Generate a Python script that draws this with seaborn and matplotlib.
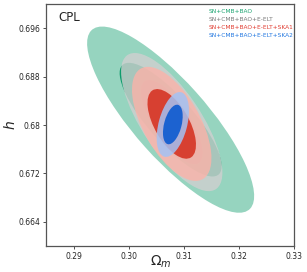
import numpy as np
import matplotlib
matplotlib.use("Agg")
import matplotlib.pyplot as plt
from matplotlib.patches import Ellipse
import seaborn as sns

# ─── DATA ───────────────────────────────────────────────
labels  = ["SN+CMB+BAO", "SN+CMB+BAO+E-ELT",
           "SN+CMB+BAO+E-ELT+SKA1", "SN+CMB+BAO+E-ELT+SKA2"]
om_mean = [0.3076, 0.3078, 0.3078, 0.3080]
h_mean  = [0.6809, 0.6805, 0.6802, 0.6801]
sig_om  = [0.0061, 0.0037, 0.0029, 0.00118]
sig_h   = [0.0062, 0.0046, 0.0038, 0.00216]
rho     = [-0.82, -0.73, -0.60, 0.42]

xticks = [0.29, 0.30, 0.31, 0.32, 0.33]
xtick_labels = ["0.29", "0.30", "0.31", "0.32", "0.33"]
yticks = [0.664, 0.672, 0.680, 0.688, 0.696]
ytick_labels = ["0.664", "0.672", "0.68", "0.688", "0.696"]

# ─── STYLE ──────────────────────────────────────────────
colors_2s = ["#96d4bf", "#d0d0d0", "#fcb3a9", "#a4c2f4"]
colors_1s = ["#0e9c6c", "#b4b4b4", "#d63a2a", "#1c62d0"]
alpha_2s  = [1.0, 0.8, 0.8, 0.85]
alpha_1s  = [1.0, 0.8, 0.95, 1.0]
text_cols = ["#1aa36f", "#7a7a7a", "#e03c31", "#2277e0"]

K1 = np.sqrt(2.30)   # 68% 2D contour
K2 = np.sqrt(6.17)   # 95% 2D contour


def ellipse(ax, mx, my, sx, sy, r, k, **kw):
    cov = np.array([[sx**2, r*sx*sy], [r*sx*sy, sy**2]])
    vals, vecs = np.linalg.eigh(cov)
    ang = np.degrees(np.arctan2(vecs[1, 1], vecs[0, 1]))
    e = Ellipse((mx, my), 2*k*np.sqrt(vals[1]), 2*k*np.sqrt(vals[0]),
                angle=ang, lw=0, **kw)
    ax.add_patch(e)


sns.set_theme(style="ticks")
plt.rcParams["font.family"] = ["DejaVu Sans"]

fig = plt.figure(figsize=(3.07, 2.72), dpi=100)
ax = fig.add_axes([0.150, 0.0956, 0.808, 0.889])

for i in range(len(labels)):
    ellipse(ax, om_mean[i], h_mean[i], sig_om[i], sig_h[i], rho[i], K2,
            facecolor=colors_2s[i], alpha=alpha_2s[i])
    ellipse(ax, om_mean[i], h_mean[i], sig_om[i], sig_h[i], rho[i], K1,
            facecolor=colors_1s[i], alpha=alpha_1s[i])

ax.set_xlim(0.285, 0.330)
ax.set_ylim(0.660, 0.700)
ax.set_xticks(xticks)
ax.set_xticklabels(xtick_labels)
ax.set_yticks(yticks)
ax.set_yticklabels(ytick_labels)
ax.tick_params(labelsize=5.5, length=2, width=0.6, pad=2, color="#333333")

for s in ax.spines.values():
    s.set_color("#555555")
    s.set_linewidth(0.9)

ax.set_xlabel(r"$\Omega_m$", fontsize=10, va="top")
ax.xaxis.set_label_coords(0.462, -0.03)
ax.set_ylabel(r"$h$", fontsize=10)
ax.yaxis.set_label_coords(-0.115, 0.5)

ax.text(0.048, 0.946, "CPL", transform=ax.transAxes, fontsize=8.5,
        va="center", ha="left")

for i, lab in enumerate(labels):
    ax.text(0.657, 0.971 - 0.033*i, lab, transform=ax.transAxes,
            fontsize=4.2, color=text_cols[i], va="center", ha="left")

fig.savefig("out.png", dpi=100)
